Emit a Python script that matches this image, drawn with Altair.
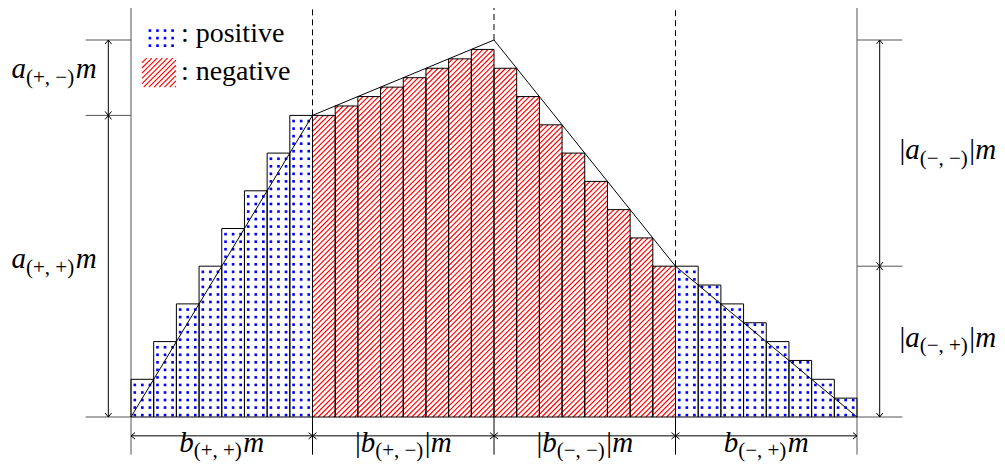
import altair as alt
import numpy as np
import pandas as pd

alt.data_transformers.disable_max_rows()

# ---------------- data ----------------
bar_heights = [1, 2, 3, 4, 5, 6, 7, 8,
               8, 8.25, 8.5, 8.75, 9, 9.25, 9.5, 9.75,
               9.25, 8.5, 7.75, 7, 6.25, 5.5, 4.75, 4,
               4, 3.5, 3, 2.5, 2, 1.5, 1, 0.5]
bar_kind = ["positive"] * 8 + ["negative"] * 16 + ["positive"] * 8
curve_x = [0, 8, 16, 24, 32]
curve_y = [0, 8, 10, 4, 0]
dash_x = [8, 16, 24]
dash_y = [8, 10, 4]
left_levels = [0, 8, 10]
right_levels = [0, 4, 10]
bottom_marks = [0, 8, 16, 24, 32]

label_names = ["a", "a", "a", "a", "b", "b", "b", "b"]
label_subs = ["(+, −)", "(+, +)", "(−, −)", "(−, +)",
              "(+, +)", "(+, −)", "(−, −)", "(−, +)"]
label_abs = [False, False, True, True, False, True, True, False]
legend_texts = [": positive", ": negative"]

# ---------------- layout ----------------
PX_X = 726 / 32.0      # px per x unit
PX_Y = 37.7            # px per y unit
ORX, ORY = 131, 417    # page pixel of data origin
W, H = 989, 456
xdom = [(8 - ORX) / PX_X, (8 + W - ORX) / PX_X]
ydom = [(ORY - 8 - H) / PX_Y, (ORY - 8) / PX_Y]
YTOP = ydom[1]

LEFT_DIM_X, LEFT_EXT = -1.0, -2.0
RIGHT_DIM_X, RIGHT_EXT = 33.0, 34.0
BOT_DIM_Y, BOT_EXT = -0.5, -1.0

label_cx = [-3.39, -3.39, 36.0, 36.0, 4, 12, 20, 28]
label_base = [8.98, 3.94, 6.84, 1.86, -0.92, -0.92, -0.92, -0.92]

LEG_X0, LEG_X1 = 0.485, 1.98
LEG_BLUE = (9.81, 10.48)
LEG_RED = (8.75, 9.52)
LEG_TEXT_X = 2.2
LEG_TEXT_Y = [9.94, 8.94]

FONT = "Liberation Serif"
MAIN, SUB, SUB_DROP = 29, 21, 5.5
HATCH = 5.2
GRAY = "#555555"

xs = alt.Scale(domain=xdom, nice=False, zero=False, padding=0)
ys = alt.Scale(domain=ydom, nice=False, zero=False, padding=0)


def X(f):
    return alt.X(f, type="quantitative", scale=xs, axis=None)


def Y(f):
    return alt.Y(f, type="quantitative", scale=ys, axis=None)


# ---------------- pattern helpers ----------------
def hatch(x0, x1, y0, y1):
    u0, u1, v0, v1 = x0 * PX_X, x1 * PX_X, y0 * PX_Y, y1 * PX_Y
    out = []
    kmin = int(np.floor((u0 - v1) / HATCH)) - 1
    kmax = int(np.ceil((u1 - v0) / HATCH)) + 1
    for k in range(kmin, kmax + 1):
        c = k * HATCH
        lo = max(u0, v0 + c)
        hi = min(u1, v1 + c)
        if hi - lo > 0.3:
            out.append(dict(x=lo / PX_X, y=(lo - c) / PX_Y,
                            x2=hi / PX_X, y2=(hi - c) / PX_Y))
    return out


def dots(x0, x1, y0, y1):
    out = []
    cols = [k / 3 + 1 / 6 for k in range(-30, 130)]
    rows = [0.05 + 0.2 * j for j in range(0, 60)]
    for cx in cols:
        if x0 + 0.02 < cx < x1 - 0.02:
            for ry in rows:
                if y0 + 0.02 < ry < y1 - 0.03:
                    out.append(dict(x=cx, y=ry))
    return out


bars = pd.DataFrame(dict(x=list(range(32)), x2=[i + 1 for i in range(32)],
                         y=[0] * 32, y2=bar_heights, kind=bar_kind))

hatch_rows, dot_rows = [], []
for _, r in bars.iterrows():
    if r.kind == "negative":
        hatch_rows += hatch(r.x, r.x2, 0, r.y2)
    else:
        dot_rows += dots(r.x, r.x2, 0, r.y2)
hatch_rows += hatch(LEG_X0, LEG_X1, *LEG_RED)
dot_rows += dots(LEG_X0, LEG_X1, *LEG_BLUE)
hatch_df = pd.DataFrame(hatch_rows)
dot_df = pd.DataFrame(dot_rows)

hatch_layer = alt.Chart(hatch_df).mark_rule(color="#ff0000", strokeWidth=1.15).encode(
    x=X("x"), y=Y("y"), x2="x2", y2="y2")
dot_layer = alt.Chart(dot_df).mark_square(color="#0000ff", size=7, opacity=1).encode(
    x=X("x"), y=Y("y"))

bar_layer = alt.Chart(bars).mark_rect(fillOpacity=0, stroke="black", strokeWidth=1).encode(
    x=X("x"), x2="x2", y=Y("y"), y2="y2")

curve_df = pd.DataFrame(dict(x=curve_x, y=curve_y))
curve_layer = alt.Chart(curve_df).mark_line(color="black", strokeWidth=1).encode(
    x=X("x"), y=Y("y"))

dash_df = pd.DataFrame(dict(x=dash_x, y=dash_y, y2=[YTOP] * 3))
dash_layer = alt.Chart(dash_df).mark_rule(color="black", strokeWidth=1, strokeDash=[6, 4]).encode(
    x=X("x"), y=Y("y"), y2="y2")

vert_df = pd.DataFrame(dict(x=[0, 32], y=[BOT_EXT, BOT_EXT], y2=[YTOP, YTOP]))
vert_layer = alt.Chart(vert_df).mark_rule(color=GRAY, strokeWidth=1).encode(
    x=X("x"), y=Y("y"), y2="y2")

ext_rows = [dict(x=LEFT_EXT, x2=0, y=v) for v in left_levels] + \
           [dict(x=32, x2=RIGHT_EXT, y=v) for v in right_levels]
ext_df = pd.DataFrame(ext_rows)
ext_layer = alt.Chart(ext_df).mark_rule(color=GRAY, strokeWidth=1).encode(
    x=X("x"), x2="x2", y=Y("y"))

tick_df = pd.DataFrame(dict(x=[8, 16, 24], y=[BOT_EXT] * 3, y2=[0] * 3))
tick_layer = alt.Chart(tick_df).mark_rule(color="black", strokeWidth=1).encode(
    x=X("x"), y=Y("y"), y2="y2")

dim_v = pd.DataFrame(dict(x=[LEFT_DIM_X, RIGHT_DIM_X], y=[0, 0], y2=[10, 10]))
dim_v_layer = alt.Chart(dim_v).mark_rule(color="black", strokeWidth=1).encode(
    x=X("x"), y=Y("y"), y2="y2")
dim_h = pd.DataFrame(dict(x=[0], x2=[32], y=[BOT_DIM_Y]))
dim_h_layer = alt.Chart(dim_h).mark_rule(color="black", strokeWidth=1).encode(
    x=X("x"), x2="x2", y=Y("y"))

arrows = []
for dx, levels in ((LEFT_DIM_X, left_levels), (RIGHT_DIM_X, right_levels)):
    for i, lv in enumerate(levels):
        if i > 0:
            arrows.append(dict(x=dx, y=lv, ang=0))
        if i < len(levels) - 1:
            arrows.append(dict(x=dx, y=lv, ang=180))
for i, bx in enumerate(bottom_marks):
    if i > 0:
        arrows.append(dict(x=bx, y=BOT_DIM_Y, ang=90))
    if i < len(bottom_marks) - 1:
        arrows.append(dict(x=bx, y=BOT_DIM_Y, ang=270))
arrow_df = pd.DataFrame(arrows)
arrow_layer = alt.Chart(arrow_df).mark_point(
    shape="M-0.8,1L0,0L0.8,1", filled=False, color="black", stroke="black",
    strokeWidth=1, size=64, opacity=1).encode(
    x=X("x"), y=Y("y"), angle=alt.Angle("ang:Q", scale=None))

METRIC = {'a': .5, 'b': .5, 'm': .722, '|': .2, '(': .333, ')': .333,
          '+': .564, ',': .25, '−': .564, ' ': .25}


def tw(s, size):
    return sum(METRIC[c] for c in s) * size


piece_rows = []
for name, sub, isabs, cx, by in zip(label_names, label_subs, label_abs, label_cx, label_base):
    pieces = []
    if isabs:
        pieces.append(("|", "reg"))
    pieces.append((name, "ital"))
    pieces.append((sub, "sub"))
    if isabs:
        pieces.append(("|", "reg"))
    pieces.append(("m", "ital"))
    widths = [tw(t, SUB) + 1.5 if k == "sub" else tw(t, MAIN) for t, k in pieces]
    cur = -sum(widths) / 2
    for (t, k), w in zip(pieces, widths):
        piece_rows.append(dict(x=cx + cur / PX_X,
                               y=by - (SUB_DROP / PX_Y if k == "sub" else 0),
                               text=t, kind=k))
        cur += w
pieces_df = pd.DataFrame(piece_rows)


def text_layer(kind, size, style):
    d = pieces_df[pieces_df.kind == kind]
    return alt.Chart(d).mark_text(font=FONT, fontSize=size, fontStyle=style,
                                  align="left", baseline="alphabetic", color="black").encode(
        x=X("x"), y=Y("y"), text="text:N")


ital_layer = text_layer("ital", MAIN, "italic")
reg_layer = text_layer("reg", MAIN, "normal")
sub_layer = text_layer("sub", SUB, "normal")

leg_df = pd.DataFrame(dict(x=[LEG_TEXT_X] * 2, y=LEG_TEXT_Y, text=legend_texts))
leg_layer = alt.Chart(leg_df).mark_text(font=FONT, fontSize=28, align="left",
                                        baseline="alphabetic", color="black").encode(
    x=X("x"), y=Y("y"), text="text:N")

chart = alt.layer(
    vert_layer, ext_layer, tick_layer,
    hatch_layer, dot_layer, bar_layer, curve_layer, dash_layer,
    dim_v_layer, dim_h_layer, arrow_layer,
    ital_layer, reg_layer, sub_layer, leg_layer,
).properties(
    width=W, height=H, padding=0,
    autosize=alt.AutoSizeParams(type="none"),
    background="white",
).configure_view(stroke=None)

chart.save("out.html", embed_options={"renderer": "svg", "actions": False})
